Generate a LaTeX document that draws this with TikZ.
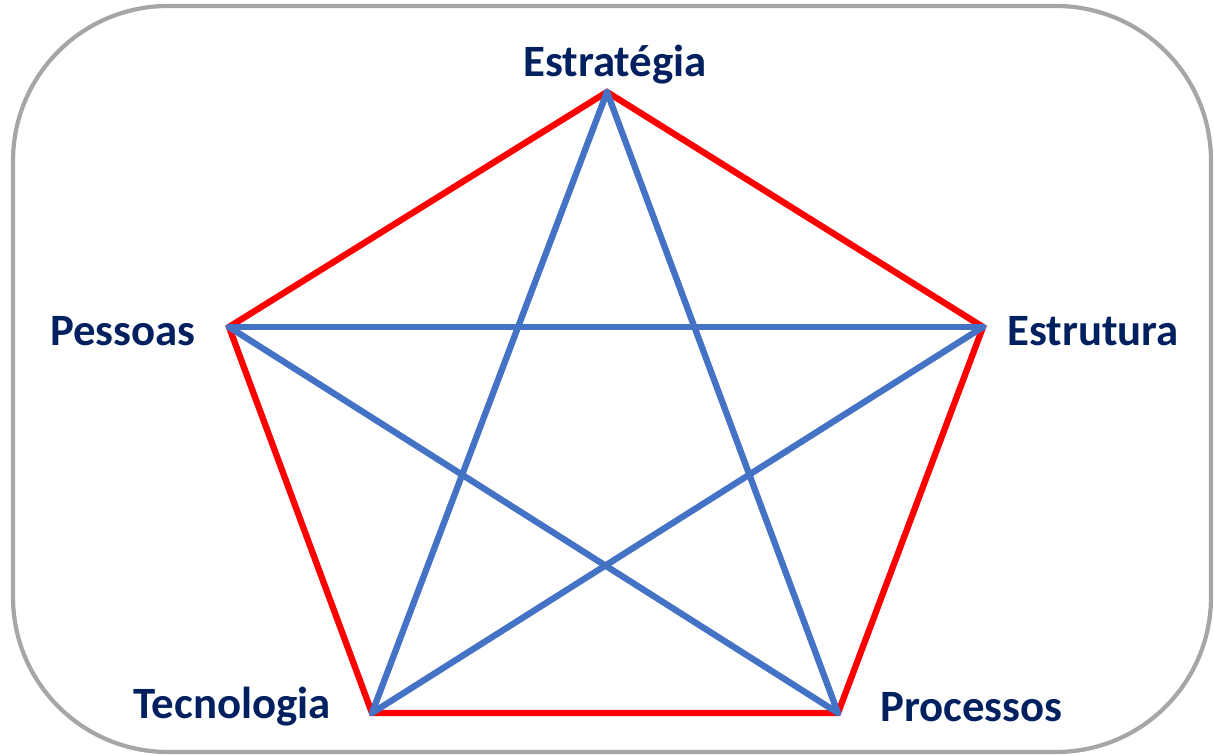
\documentclass[tikz,border=0pt]{standalone}
\usepackage{fontspec}
\setmainfont{Carlito}
\definecolor{navy}{HTML}{002060}
\definecolor{ebred}{HTML}{FF0000}
\definecolor{ebblue}{HTML}{4472C4}
\begin{document}
\begin{tikzpicture}[x=0.02cm,y=-0.02cm,
	  lbl/.style={text=navy,font=\fontsize{25.5}{30}\selectfont\bfseries,inner sep=0pt},
	  side/.style={ebred,line width=3.6pt,line join=miter},
	  diag/.style={ebblue,line width=3.6pt,line cap=round}]
	  \useasboundingbox (0,0) rectangle (1214,756);
	  \draw[line width=2.4pt,color=black!35,rounded corners=3.1cm] (13,6) rectangle (1211,752);
	  \coordinate (est) at (607,92);
	  \coordinate (etu) at (983,327);
	  \coordinate (pro) at (838,713);
	  \coordinate (tec) at (372,713);
	  \coordinate (pes) at (229,327);
	  \node[lbl,anchor=south] (lest) at (615,84) {Estratégia};
	  \node[lbl,anchor=west] (letu) at (1007,331) {Estrutura};
	  \node[lbl,anchor=west] (lpro) at (880,707) {Processos};
	  \node[lbl,anchor=east] (ltec) at (331,707) {Tecnologia};
	  \node[lbl,anchor=east] (lpes) at (196,331) {Pessoas};
	  \draw[side] (est) -- (etu) -- (pro) -- (tec) -- (pes) -- cycle;
	  \draw[diag] (est) -- (tec);
	  \draw[diag] (est) -- (pro);
	  \draw[diag] (pes) -- (etu);
	  \draw[diag] (pes) -- (pro);
	  \draw[diag] (etu) -- (tec);
	\end{tikzpicture}
\end{document}
